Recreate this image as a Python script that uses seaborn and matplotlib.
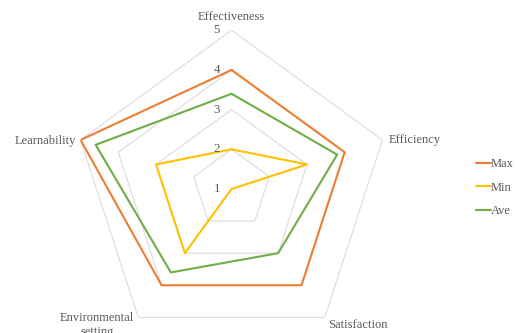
import numpy as np
import pandas as pd
import matplotlib
matplotlib.use("Agg")
import matplotlib.pyplot as plt
import seaborn as sns

categories = ["Effectiveness", "Efficiency", "Satisfaction", "Environmental\nsetting", "Learnability"]
max_vals = [4, 4, 4, 4, 5]
min_vals = [2, 3, 1, 3, 3]
ave_vals = [3.4, 3.8, 3.0, 3.6, 4.6]
series_names = ["Max", "Min", "Ave"]
levels = [1, 2, 3, 4, 5]

palette = {"Max": "#ED7D31", "Min": "#FFC000", "Ave": "#70AD47"}
text_color = "#595959"

sns.set_theme(style="white")
plt.rcParams["font.family"] = ["Liberation Serif", "DejaVu Serif"]

n = len(categories)
angles = np.linspace(0, 2 * np.pi, n + 1)

rows = []
for name, vals in zip(series_names, [max_vals, min_vals, ave_vals]):
    closed = list(vals) + [vals[0]]
    for i in range(n + 1):
        rows.append({"series": name, "angle": angles[i], "value": closed[i]})
df = pd.DataFrame(rows)

fig = plt.figure(figsize=(5.15, 3.33), dpi=100)
ax = fig.add_axes([0.1414, -0.0441, 0.6163, 0.9532], projection="polar")
ax.set_theta_offset(np.pi / 2)
ax.set_theta_direction(-1)

# pentagon grid
for lev in levels[1:]:
    ax.plot(angles, [lev] * (n + 1), color="#D9D9D9", lw=0.75, zorder=1)

sns.lineplot(data=df, x="angle", y="value", hue="series", hue_order=series_names,
             palette=palette, sort=False, estimator=None, units="series",
             linewidth=1.5, ax=ax, zorder=3)

ax.set_ylim(1, 5)
ax.set_xticks([])
ax.set_yticks([])
ax.grid(False)
ax.spines["polar"].set_visible(False)
ax.patch.set_alpha(0)
ax.set_xlabel("")
ax.set_ylabel("")

# category labels
label_pos = [
    ((0, 9.4), "center", "center"),
    ((4.3, 0), "left", "center"),
    ((2.2, -5.6), "left", "center"),
    ((-2.9, 3.6), "right", "top"),
    ((-3.6, -0.7), "right", "center"),
]
for ang, cat, (off, ha, va) in zip(angles[:-1], categories, label_pos):
    ax.annotate(cat, xy=(ang, 5), xytext=off, textcoords="offset points",
                ha=ha, va=va, multialignment="center", fontsize=9,
                color=text_color, annotation_clip=False)

# radial tick labels along the top axis
for lev in levels:
    ax.annotate(str(lev), xy=(0, lev), xytext=(-8.3, 0), textcoords="offset points",
                ha="right", va="center", fontsize=9.3, color=text_color,
                annotation_clip=False)

handles, labels = ax.get_legend_handles_labels()
ax.get_legend().remove()
leg = fig.legend(handles, labels, loc="center left", bbox_to_anchor=(0.924, 0.436),
                 frameon=False, fontsize=9, handlelength=1.2, handletextpad=0.0,
                 labelspacing=0.92, borderpad=0, borderaxespad=0)
for t in leg.get_texts():
    t.set_color(text_color)

fig.savefig("out.png", dpi=100)
